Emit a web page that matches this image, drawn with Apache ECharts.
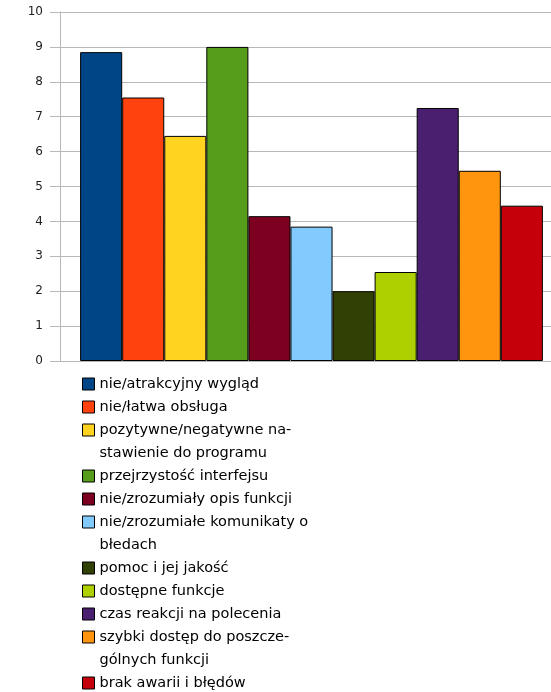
<!DOCTYPE html>
<html>
<head>
<meta charset="utf-8">
<script src="https://cdn.jsdelivr.net/npm/echarts@6/dist/echarts.min.js"></script>
<style>
  html, body { margin: 0; padding: 0; background: #fff; }
  #chart { width: 551px; height: 692px; }
</style>
</head>
<body>
<div id="chart"></div>
<script>
  // nazwy serii (legenda), wartości słupków i kolory
  var seriesNames = [
    'nie/atrakcyjny wygląd',
    'nie/łatwa obsługa',
    'pozytywne/negatywne na-\nstawienie do programu',
    'przejrzystość interfejsu',
    'nie/zrozumiały opis funkcji',
    'nie/zrozumiałe komunikaty o\nbłedach',
    'pomoc i jej jakość',
    'dostępne funkcje',
    'czas reakcji na polecenia',
    'szybki dostęp do poszcze-\ngólnych funkcji',
    'brak awarii i błędów'
  ];
  var seriesValues = [8.85, 7.55, 6.45, 9.0, 4.15, 3.85, 2.0, 2.55, 7.25, 5.45, 4.45];
  var seriesColors = ['#004586', '#ff420e', '#ffd320', '#579d1c', '#7e0021', '#83caff',
                      '#314004', '#aecf00', '#4b1f6f', '#ff950e', '#c5000b'];
  var categories = [''];
  var yMin = 0, yMax = 10, yStep = 1;

  var fontFamily = 'DejaVu Sans';
  var lineH = 23;       // odstęp wierszy legendy
  var legendTop = 372.5;

  var chart = echarts.init(document.getElementById('chart'), null, {renderer: 'canvas'});

  var series = [];
  var legends = [];
  var lineIdx = 0;
  seriesNames.forEach(function (name, i) {
    series.push({
      name: name,
      type: 'bar',
      barGap: '0%',
      barCategoryGap: '8%',
      itemStyle: {
        color: seriesColors[i],
        borderColor: '#000',
        borderWidth: 1
      },
      emphasis: {disabled: true},
      data: [seriesValues[i]]
    });
    var nLines = name.split('\n').length;
    // ikonka wyrównana do pierwszego wiersza - dodajemy pusty wiersz nad tekstem
    legends.push({
      data: [name],
      orient: 'vertical',
      left: 82,
      top: legendTop + lineIdx * lineH - (nLines > 1 ? lineH : 0),
      padding: 0,
      itemGap: 0,
      itemWidth: 12,
      itemHeight: 12,
      icon: 'rect',
      formatter: nLines > 1 ? '\n{name}' : '{name}',
      itemStyle: {borderColor: '#000', borderWidth: 1},
      textStyle: {
        fontFamily: fontFamily,
        fontSize: 14.5,
        lineHeight: lineH,
        color: '#000'
      }
    });
    lineIdx += nLines;
  });

  chart.setOption({
    animation: false,
    backgroundColor: '#fff',
    grid: {
      left: 60,
      top: 12,
      right: -12,
      bottom: 331,
      containLabel: false,
      outerBoundsMode: 'none'
    },
    legend: legends,
    xAxis: {
      type: 'category',
      data: categories,
      axisLine: {show: true, lineStyle: {color: '#b8b8b8', width: 1}},
      axisTick: {show: false},
      axisLabel: {show: false},
      splitLine: {show: false}
    },
    yAxis: {
      type: 'value',
      min: yMin,
      max: yMax,
      interval: yStep,
      axisLine: {show: true, lineStyle: {color: '#b8b8b8', width: 1}},
      axisTick: {show: true, inside: false, length: 10, lineStyle: {color: '#b8b8b8', width: 1}},
      axisLabel: {
        margin: 17,
        fontFamily: fontFamily,
        fontSize: 12,
        color: '#222'
      },
      splitLine: {show: true, lineStyle: {color: '#b8b8b8', width: 1}}
    },
    series: series
  });
</script>
</body>
</html>
